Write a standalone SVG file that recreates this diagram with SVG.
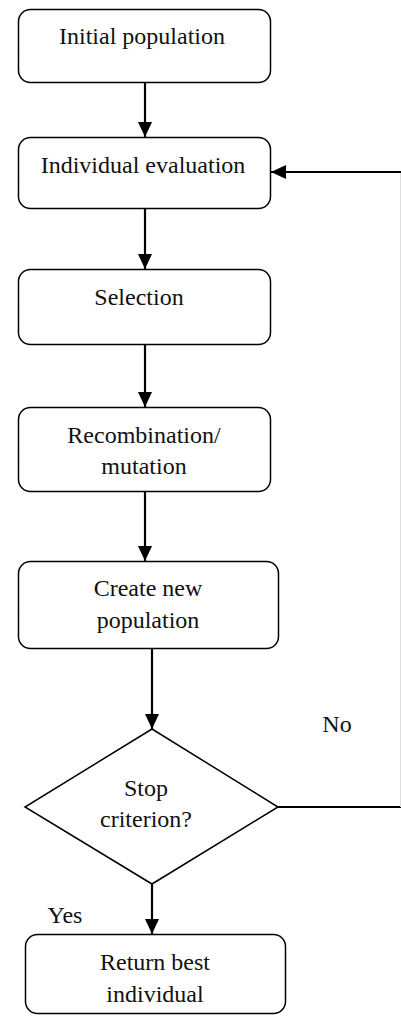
<svg xmlns="http://www.w3.org/2000/svg" width="401" height="1016" viewBox="0 0 401 1016">
<style>
.box{fill:#fff;stroke:#000;stroke-width:1.5}
.t{font-size:24px;fill:#111;text-anchor:middle}
.c{fill:none;stroke:#000;stroke-width:2.2}
</style>
<defs>
<marker id="ah" viewBox="0 0 15 14" refX="15" refY="7" markerWidth="15" markerHeight="14" markerUnits="userSpaceOnUse" orient="auto">
<path d="M0,0 L15,7 L0,14 Z" fill="#000"/>
</marker>
</defs>
<rect width="401" height="1016" fill="#fff"/>
<g font-family="Liberation Serif, DejaVu Serif, serif">
<g id="connectors">
<line class="c" x1="145" y1="83" x2="145" y2="137" marker-end="url(#ah)"/>
<line class="c" x1="145" y1="209" x2="145" y2="269" marker-end="url(#ah)"/>
<line class="c" x1="145" y1="345" x2="145" y2="407" marker-end="url(#ah)"/>
<line class="c" x1="145" y1="492" x2="145" y2="561" marker-end="url(#ah)"/>
<line class="c" x1="152" y1="649" x2="152" y2="729" marker-end="url(#ah)"/>
<line class="c" x1="152" y1="884" x2="152" y2="934" marker-end="url(#ah)"/>
<line x1="278" y1="807" x2="401" y2="807" stroke="#000" stroke-width="1.8"/>
<line x1="400.5" y1="172" x2="400.5" y2="807" stroke="#ddd" stroke-width="1"/>
<line class="c" x1="401" y1="172" x2="271" y2="172" marker-end="url(#ah)"/>
<text class="t" x="337" y="732">No</text>
<text class="t" x="65" y="923">Yes</text>
</g>
<g id="n1">
<rect class="box" x="18.5" y="9.5" width="252" height="73" rx="12"/>
<text class="t" x="142" y="44">Initial population</text>
</g>
<g id="n2">
<rect class="box" x="18.5" y="137.5" width="252" height="71" rx="12"/>
<text class="t" x="143" y="173">Individual evaluation</text>
</g>
<g id="n3">
<rect class="box" x="18.5" y="269.5" width="252" height="75" rx="12"/>
<text class="t" x="139" y="305">Selection</text>
</g>
<g id="n4">
<rect class="box" x="18.5" y="407.5" width="252" height="84" rx="12"/>
<text class="t" x="144" y="443">Recombination/</text>
<text class="t" x="144" y="474">mutation</text>
</g>
<g id="n5">
<rect class="box" x="18.5" y="561.5" width="260" height="87" rx="12"/>
<text class="t" x="148" y="596">Create new</text>
<text class="t" x="148" y="628">population</text>
</g>
<g id="n6">
<polygon class="box" points="152,729 278,807 152,884 25,807"/>
<text class="t" x="146" y="796">Stop</text>
<text class="t" x="146" y="827">criterion?</text>
</g>
<g id="n7">
<rect class="box" x="25.5" y="934.5" width="260" height="79" rx="12"/>
<text class="t" x="155" y="970">Return best</text>
<text class="t" x="155" y="1002">individual</text>
</g>
</g>
</svg>
